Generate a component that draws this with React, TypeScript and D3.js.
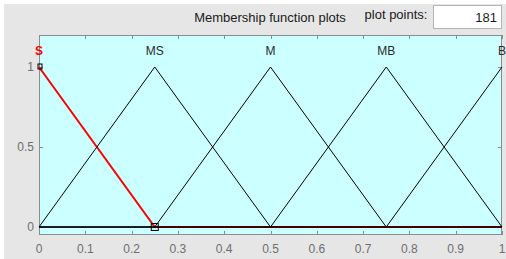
import React from 'react';
import * as d3 from 'd3';

// Membership functions of the selected variable (vertices of each curve).
const mfNames = ['S', 'MS', 'M', 'MB', 'B'];
const mfPeaks = [0, 0.25, 0.5, 0.75, 1];
const sX = [0, 0.25, 1];
const sY = [1, 0, 0];
const msX = [0, 0.25, 0.5, 1];
const msY = [0, 1, 0, 0];
const mX = [0, 0.25, 0.5, 0.75, 1];
const mY = [0, 0, 1, 0, 0];
const mbX = [0, 0.5, 0.75, 1];
const mbY = [0, 0, 1, 0];
const bX = [0, 0.75, 1];
const bY = [0, 0, 1];

const xTicks = [0, 0.1, 0.2, 0.3, 0.4, 0.5, 0.6, 0.7, 0.8, 0.9, 1];
const xTickLabels = ['0', '0.1', '0.2', '0.3', '0.4', '0.5', '0.6', '0.7', '0.8', '0.9', '1'];
const yTicks = [0, 0.5, 1];
const yTickLabels = ['0', '0.5', '1'];
const plotPoints = '181';

const W = 506;
const H = 259;
const plot = { left: 39, right: 502, top: 35, bottom: 235 };
const font = 'Arial, "Liberation Sans", sans-serif';

export default function App() {
  const x = d3.scaleLinear().domain([0, 1]).range([plot.left, plot.right]);
  const y = d3.scaleLinear().domain([-0.05, 1.2]).range([plot.bottom, plot.top]);

  const line = (xs: number[], ys: number[]) =>
    d3.line<number>()
      .x((_, i) => x(xs[i]))
      .y((_, i) => y(ys[i]))(xs) || '';

  const blackCurves = [
    [msX, msY],
    [mX, mY],
    [mbX, mbY],
    [bX, bY],
  ];

  return (
    <div style={{ position: 'absolute', left: 0, top: 0 }}>
      <svg width={W} height={H} style={{ display: 'block' }}>
        <rect x={0} y={0} width={W} height={H} fill="#ffffff" />
        <rect x={4} y={4} width={W - 4} height={H - 4} fill="#e6e6e6" />

        {/* header */}
        <text x={270} y={22} textAnchor="middle" fontFamily={font} fontSize={13} fill="#1a1a1a">
          Membership function plots
        </text>
        <text x={396} y={19} textAnchor="middle" fontFamily={font} fontSize={13} fill="#1a1a1a">
          plot points:
        </text>
        <rect x={433.5} y={5.5} width={68} height={23} fill="#ffffff" stroke="#b4b4b4" />
        <text x={497} y={22} textAnchor="end" fontFamily={font} fontSize={13} fill="#1a1a1a">
          {plotPoints}
        </text>

        {/* axes box */}
        <rect x={plot.left} y={plot.top} width={plot.right - plot.left} height={plot.bottom - plot.top}
          fill="#ccffff" />

        {/* ticks, inward */}
        {xTicks.map((t) => (
          <g key={'xt' + t} stroke="#8c8c8c">
            <line x1={Math.round(x(t)) + 0.5} x2={Math.round(x(t)) + 0.5} y1={plot.bottom} y2={plot.bottom - 4} />
            <line x1={Math.round(x(t)) + 0.5} x2={Math.round(x(t)) + 0.5} y1={plot.top} y2={plot.top + 4} />
          </g>
        ))}
        {yTicks.map((t) => (
          <g key={'yt' + t} stroke="#8c8c8c">
            <line x1={plot.left} x2={plot.left + 4} y1={Math.round(y(t)) + 0.5} y2={Math.round(y(t)) + 0.5} />
            <line x1={plot.right} x2={plot.right - 4} y1={Math.round(y(t)) + 0.5} y2={Math.round(y(t)) + 0.5} />
          </g>
        ))}
        <rect x={plot.left + 0.5} y={plot.top + 0.5} width={plot.right - plot.left - 1}
          height={plot.bottom - plot.top - 1} fill="none" stroke="#8c8c8c" />

        {/* tick labels */}
        {xTicks.map((t, i) => (
          <text key={'xl' + t} x={x(t)} y={253} textAnchor="middle" fontFamily={font} fontSize={12} fill="#6e6e6e">
            {xTickLabels[i]}
          </text>
        ))}
        {yTicks.map((t, i) => (
          <text key={'yl' + t} x={34} y={y(t) + 4} textAnchor="end" fontFamily={font} fontSize={12} fill="#6e6e6e">
            {yTickLabels[i]}
          </text>
        ))}

        {/* selected MF (red), then the others */}
        <path d={line(sX, sY)} fill="none" stroke="#ff0000" strokeWidth={2} />
        {blackCurves.map(([xs, ys], i) => (
          <path key={'mf' + i} d={line(xs, ys)} fill="none" stroke="#000000" strokeWidth={1} />
        ))}

        {/* handles on the selected MF */}
        <rect x={x(0) - 1} y={y(1) - 3} width={4} height={5} fill="none" stroke="#000" strokeWidth={1} />
        <rect x={x(0.25) - 3.5} y={y(0) - 3.5} width={7} height={7} fill="none" stroke="#000" strokeWidth={1} />

        {/* MF labels */}
        {mfNames.map((n, i) => (
          <text key={n} x={x(mfPeaks[i])} y={y(1.1) + 4} textAnchor="middle" fontFamily={font} fontSize={12}
            fontWeight={i === 0 ? 'bold' : 'normal'} fill={i === 0 ? '#ff0000' : '#2a2a2a'}>
            {n}
          </text>
        ))}
      </svg>
    </div>
  );
}
